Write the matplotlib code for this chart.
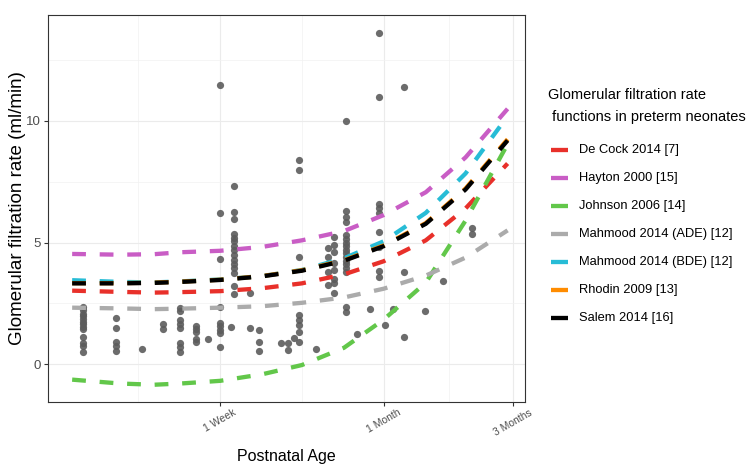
import numpy as np
import matplotlib
matplotlib.use('Agg')
import matplotlib.pyplot as plt
from matplotlib.ticker import FixedLocator, NullFormatter

plt.rcParams['font.family'] = ['Liberation Sans', 'DejaVu Sans']

# observed GFR (ml/min) by postnatal age (days)
obs_days = [2.2, 2.9, 3.6, 4.3, 5.0, 5.7, 6.3, 7.0, 7.9, 7.7, 9.0, 9.7, 11.7, 12.4,
            13.1, 13.7, 15.8, 17.5, 18.4, 20.4, 22.4, 25.0, 26.8, 28.2, 30.2,
            33.4, 39.8, 46.4, 59.1]
obs_vals = [
    [2.33, 2.22, 2.08, 1.98, 1.86, 1.74, 1.63, 1.52, 1.43, 1.10, 0.85, 0.74, 0.51],
    [1.9, 1.5, 0.9, 0.74, 0.52],
    [0.62],
    [1.65, 1.43],
    [2.32, 2.19, 1.81, 1.65, 1.5, 0.85, 0.69, 0.51],
    [1.56, 1.43, 1.3, 1.02, 0.89],
    [1.03],
    [11.5, 6.23, 4.32, 2.33, 1.67, 1.55, 1.4, 1.26, 0.71],
    [7.34, 6.27, 5.95, 5.35, 5.2, 5.05, 4.85, 4.7, 4.5, 4.3, 4.1, 3.95, 3.75, 3.2, 2.9],
    [1.54],
    [2.93, 1.48],
    [1.4, 0.92, 0.54],
    [0.86],
    [0.86, 0.58],
    [1.07],
    [8.4, 8.0, 4.42, 2.02, 1.82, 1.6, 1.3, 0.89],
    [0.61],
    [4.77, 4.42, 3.8, 3.25],
    [5.24, 4.9, 4.6, 4.14, 3.89, 3.52, 3.35, 2.93],
    [10.0, 6.28, 6.06, 5.86, 5.3, 5.15, 5.0, 4.85, 4.7, 4.55, 4.4, 4.25, 4.1,
     3.95, 3.8, 2.36, 2.15],
    [1.22],
    [2.26],
    [13.6, 11.0, 6.6, 6.4, 6.2, 5.45, 4.83, 3.84, 3.6],
    [1.6],
    [2.26],
    [11.4, 3.8, 1.1],
    [2.19],
    [3.42],
    [5.58, 5.37],
]

# model predictions
age_grid = [2, 3, 4, 5, 7, 10, 14, 20, 28, 40, 56, 80]
de_cock = [3.02, 2.97, 2.94, 2.96, 3.0, 3.12, 3.32, 3.69, 4.23, 5.09, 6.4, 8.25]
hayton = [4.53, 4.5, 4.52, 4.6, 4.66, 4.82, 5.09, 5.47, 6.13, 7.07, 8.5, 10.5]
johnson = [-0.64, -0.8, -0.85, -0.8, -0.69, -0.42, -0.04, 0.67, 1.83, 3.35, 5.9, 9.05]
mahmood_ade = [2.32, 2.29, 2.26, 2.28, 2.32, 2.38, 2.52, 2.74, 3.1, 3.64, 4.38, 5.5]
mahmood_bde = [3.45, 3.38, 3.36, 3.4, 3.48, 3.62, 3.87, 4.35, 5.05, 6.22, 7.84, 10.2]
rhodin = [3.33, 3.33, 3.35, 3.39, 3.47, 3.62, 3.86, 4.27, 4.88, 5.8, 7.22, 9.25]
salem = [3.32, 3.32, 3.34, 3.38, 3.46, 3.61, 3.84, 4.25, 4.85, 5.77, 7.18, 9.2]

model_names = ['De Cock 2014 [7]', 'Hayton 2000 [15]', 'Johnson 2006 [14]',
               'Mahmood 2014 (ADE) [12]', 'Mahmood 2014 (BDE) [12]',
               'Rhodin 2009 [13]', 'Salem 2014 [16]']
model_vals = [de_cock, hayton, johnson, mahmood_ade, mahmood_bde, rhodin, salem]
model_cols = ['#E8302A', '#C95DC5', '#62C74A', '#ABABAB', '#27BCD6', '#FF8C00', '#000000']

W, H = 749, 467
fig = plt.figure(figsize=(W / 100, H / 100), dpi=100)
ax = fig.add_axes([48 / W, 1 - 402 / H, 477 / W, 387 / H])
ax.set_xscale('log')

xs, ys = [], []
for d, vals in zip(obs_days, obs_vals):
    xs += [d] * len(vals)
    ys += vals
ax.scatter(xs, ys, s=27, color='#5C5C5C', alpha=0.9, linewidths=0, zorder=2)

for vals, col in zip(model_vals, model_cols):
    ax.plot(age_grid, vals, color=col, lw=3.1, linestyle=(0, (3.2, 3.2)),
            dash_capstyle='butt', zorder=3)

ax.set_xlim(1.63, 92.7)
ax.set_ylim(-1.56, 14.36)

ax.xaxis.set_major_locator(FixedLocator([7, 28, 84]))
ax.xaxis.set_minor_locator(FixedLocator([3.5, 14, 48.5]))
ax.xaxis.set_minor_formatter(NullFormatter())
ax.set_xticklabels(['1 Week', '1 Month', '3 Months'], rotation=30, ha='left',
                   rotation_mode='anchor', fontsize=7.5, color='#4D4D4D')
ax.set_yticks([0, 5, 10])
ax.yaxis.set_minor_locator(FixedLocator([2.5, 7.5, 12.5]))
ax.set_yticklabels(['0', '5', '10'], fontsize=9.5, color='#4D4D4D')

ax.grid(which='major', color='#EBEBEB', lw=0.8)
ax.grid(which='minor', color='#F2F2F2', lw=0.5)
ax.set_axisbelow(True)
ax.tick_params(which='major', length=3, color='#333333')
ax.tick_params(axis='x', which='major', pad=1)
ax.tick_params(axis='y', which='major', pad=2)
ax.tick_params(which='minor', length=0)
for sp in ax.spines.values():
    sp.set_color('#333333')
    sp.set_linewidth(0.8)
# shift rotated tick labels so they sit centred under their ticks
for lab in ax.get_xticklabels():
    lab.set_horizontalalignment('center')
    lab.set_rotation_mode('default')

ax.set_xlabel('Postnatal Age', fontsize=11.5, va='center')
ax.xaxis.set_label_coords(0.499, (402 - 456) / 387)
ax.set_ylabel('Glomerular filtration rate (ml/min)', fontsize=13.5, va='center')
ax.yaxis.set_label_coords((18 - 48) / 477, 0.5)

# legend drawn by hand in figure pixels
fig.text(548 / W, 1 - 95 / H, 'Glomerular filtration rate', fontsize=10.5,
         va='center', ha='left')
fig.text(548 / W, 1 - 117 / H, ' functions in preterm neonates', fontsize=10.5,
         va='center', ha='left')
for i, (name, col) in enumerate(zip(model_names, model_cols)):
    yy = 1 - (150 + i * 28) / H
    fig.add_artist(plt.Line2D([551 / W, 568 / W], [yy, yy], color=col, lw=3.1,
                              solid_capstyle='butt'))
    fig.text(579 / W, yy, name, fontsize=9.3, va='center', ha='left')

fig.savefig('out.png', dpi=100)
